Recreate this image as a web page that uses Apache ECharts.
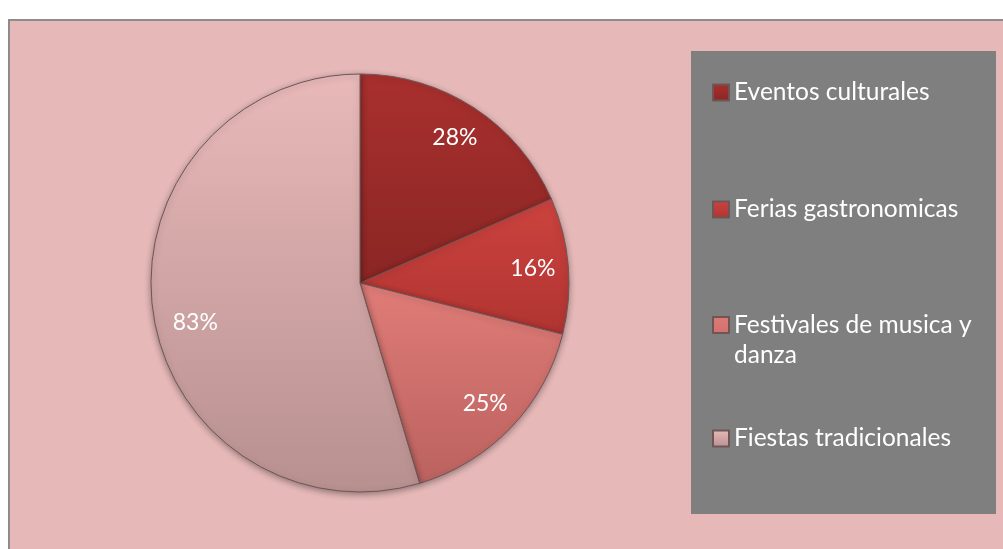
<!DOCTYPE html>
<html>
<head>
<meta charset="utf-8">
<script src="https://cdn.jsdelivr.net/npm/echarts@6/dist/echarts.min.js"></script>
<style>
  html, body { margin: 0; padding: 0; background: #ffffff; }
  #chart { width: 1003px; height: 549px; }
</style>
</head>
<body>
<div id="chart"></div>
<script>
// datos del grafico
var categorias = ['Eventos culturales', 'Ferias gastronomicas', 'Festivales de musica y danza', 'Fiestas tradicionales'];
var valores = [28, 16, 25, 83];

// degradados de cada porcion (arriba -> abajo)
var colores = [
  ['#a9302e', '#8a2624'],
  ['#cc433f', '#b03431'],
  ['#e07c78', '#bb625f'],
  ['#e9b9b9', '#b89090']
];

function grad(c) {
  return new echarts.graphic.LinearGradient(0, 0, 0, 1, [
    {offset: 0, color: c[0]},
    {offset: 1, color: c[1]}
  ]);
}

var datos = [];
var etiquetas = [];
for (var i = 0; i < categorias.length; i++) {
  datos.push({
    name: categorias[i],
    value: valores[i],
    itemStyle: {color: grad(colores[i])}
  });
  etiquetas.push({name: categorias[i], value: valores[i]});
}
// la etiqueta grande va un poco mas abajo, como en excel
etiquetas[3].label = {offset: [7, 15]};

var centro = [360, 283];
var textoLeyenda = {color: '#ffffff', fontSize: 24.5, fontFamily: 'Lato'};

function leyenda(nombre, top) {
  return {
    data: [{name: nombre, icon: 'rect'}],
    orient: 'vertical',
    left: 712,
    top: top,
    itemWidth: 16,
    itemHeight: 16,
    selectedMode: false,
    textStyle: textoLeyenda,
    padding: 0
  };
}

var chart = echarts.init(document.getElementById('chart'));
chart.setOption({
  animation: false,
  graphic: [
    {
      type: 'rect', z: -10,
      shape: {x: 9, y: 20, width: 1010, height: 540},
      style: {fill: '#e6b8b8', stroke: '#8c8c8c', lineWidth: 2}
    },
    {
      type: 'rect', z: -5,
      shape: {x: 691, y: 51, width: 305, height: 463},
      style: {fill: '#7f7f7f'}
    }
  ],
  legend: [
    leyenda(categorias[0], 80),
    leyenda(categorias[1], 197),
    {
      // icono alto de 60 con el cuadrado arriba, para alinearlo con la primera linea
      data: [{name: categorias[2], icon: 'path://M0,7L16,7L16,23L0,23Z M0,0L0,0 M0,60L0,60'}],
      orient: 'vertical',
      left: 712,
      top: 309,
      itemWidth: 16,
      itemHeight: 60,
      selectedMode: false,
      padding: 0,
      formatter: function () { return 'Festivales de musica y\ndanza'; },
      textStyle: {color: '#ffffff', fontSize: 24.5, fontFamily: 'Lato', lineHeight: 30}
    },
    leyenda(categorias[3], 426)
  ],
  series: [
    {
      type: 'pie',
      center: centro,
      radius: [0, 209],
      startAngle: 90,
      clockwise: true,
      data: datos,
      label: {show: false},
      labelLine: {show: false},
      itemStyle: {
        borderColor: '#6e5656',
        borderWidth: 1,
        shadowColor: 'rgba(0,0,0,0.35)',
        shadowBlur: 6,
        shadowOffsetY: 2
      },
      emphasis: {disabled: true}
    },
    {
      // serie transparente solo para colocar las etiquetas
      type: 'pie',
      center: centro,
      radius: [132, 209],
      startAngle: 90,
      clockwise: true,
      silent: true,
      data: etiquetas,
      itemStyle: {color: 'rgba(0,0,0,0)'},
      label: {
        show: true,
        position: 'inside',
        formatter: '{c}%',
        color: '#ffffff',
        fontSize: 23,
        fontFamily: 'Lato',
        textBorderWidth: 0
      },
      labelLine: {show: false},
      emphasis: {disabled: true},
      legendHoverLink: false
    }
  ]
});
</script>
</body>
</html>
